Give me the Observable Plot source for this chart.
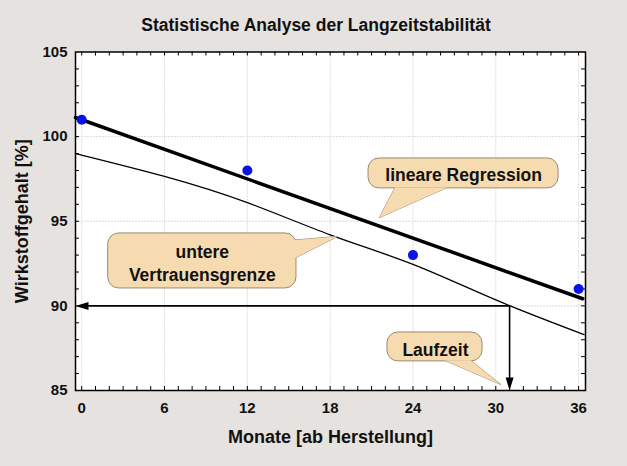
<!DOCTYPE html>
<html><head><meta charset="utf-8">
<script src="https://cdn.jsdelivr.net/npm/d3@7"></script>
<script src="https://cdn.jsdelivr.net/npm/@observablehq/plot@0.6"></script>
<style>
html,body{margin:0;padding:0;background:#e5e2df;}
#chart svg{display:block;}
</style></head><body><div id="chart"></div>
<script>
// ---- data ----
const months = [0, 12, 24, 36];
const content = [101, 98, 93, 91];
const regMonths = [-0.45, 36.3];
const regValues = [101.13, 90.42];
const lowerMonths = [-0.45, 6, 12, 18, 24, 30, 36.4];
const lowerValues = [99.0, 97.65, 96.1, 94.2, 92.45, 90.35, 88.3];
const limitValue = 90;
const shelfLife = 31;
const xTicks = [0, 6, 12, 18, 24, 30, 36];
const yTicks = [85, 90, 95, 100, 105];
const xMinor = d3.range(0, 37, 1);
const yMinor = d3.range(86, 105, 1);
const titleText = "Statistische Analyse der Langzeitstabilität";
const xTitle = "Monate [ab Herstellung]";
const yTitle = "Wirkstoffgehalt [%]";

// callouts (data units)
const calloutText = ["lineare Regression", "untere\nVertrauensgrenze", "Laufzeit"];
const calloutTextX = [27.67, 8.74, 25.63];
const calloutTextY = [97.82, 92.60, 87.5];
const calloutX1 = [20.78, 1.92, 22.15];
const calloutX2 = [34.55, 15.56, 29.04];
const calloutY1 = [96.94, 91.03, 86.72];
const calloutY2 = [98.71, 94.28, 88.43];
const tailX = [[22.7, 21.57, 26.5], [15.12, 18.53, 15.41], [26.29, 30.35, 28.17]];
const tailY = [[97.0, 95.22, 97.0], [93.87, 94.10, 92.81], [86.79, 85.36, 86.79]];

// ---- tables built from arrays ----
const points = months.map((m, i) => ({m, v: content[i]}));
const reg = regMonths.map((m, i) => ({m, v: regValues[i]}));
const lower = lowerMonths.map((m, i) => ({m, v: lowerValues[i]}));
const boxes = calloutText.map((t, i) => ({t, x: calloutTextX[i], y: calloutTextY[i], x1: calloutX1[i], x2: calloutX2[i], y1: calloutY1[i], y2: calloutY2[i]}));
const tails = tailX.flatMap((xs, i) => xs.map((x, j) => ({id: i, x, y: tailY[i][j]})));
const hArrow = [{x1: shelfLife, x2: regMonths[0], y: limitValue}];
const vArrow = [{x: shelfLife, y1: limitValue, y2: yTicks[0]}];

const arrowLeft = {draw(ctx) { ctx.moveTo(0, 0); ctx.lineTo(13, -4); ctx.lineTo(13, 4); ctx.closePath(); }};
const arrowDown = {draw(ctx) { ctx.moveTo(0, 0); ctx.lineTo(-4, -13); ctx.lineTo(4, -13); ctx.closePath(); }};

const bubbleFill = "#f7dbb0";
const bubbleStroke = "#9b8a72";
const font = "'Liberation Sans', Arial, sans-serif";

const chart = Plot.plot({
  width: 627,
  height: 466,
  marginLeft: 75,
  marginRight: 42,
  marginTop: 51.5,
  marginBottom: 76,
  x: {domain: [-0.45, 36.5]},
  y: {domain: [85, 105]},
  style: {background: "#e5e2df", fontFamily: font},
  marks: [
    Plot.frame({fill: "white", stroke: "none"}),
    Plot.ruleX(xTicks, {stroke: "#dcdcdc", strokeWidth: 1, strokeDasharray: "2,1"}),
    Plot.ruleY(yTicks.slice(1, -1), {stroke: "#dcdcdc", strokeWidth: 1, strokeDasharray: "2,1"}),
    // minor ticks inward on all sides
    Plot.tickX(xMinor, {x: d => d, insetTop: 334.5, stroke: "black"}),
    Plot.tickX(xMinor, {x: d => d, insetBottom: 334.5, stroke: "black"}),
    Plot.tickY(yMinor, {y: d => d, insetRight: 506, stroke: "black"}),
    Plot.tickY(yMinor, {y: d => d, insetLeft: 506, stroke: "black"}),
    // lines
    Plot.line(lower, {x: "m", y: "v", stroke: "black", strokeWidth: 1.3, curve: "natural"}),
    Plot.line(reg, {x: "m", y: "v", stroke: "black", strokeWidth: 3.5}),
    Plot.dot(points, {x: "m", y: "v", r: 5, fill: "#0b12e8", stroke: "none"}),
    // shelf-life arrows
    Plot.link(hArrow, {x1: "x1", x2: d => d.x2 + 0.6, y1: "y", y2: "y", stroke: "black", strokeWidth: 1.6}),
    Plot.link(vArrow, {x1: "x", x2: "x", y1: "y1", y2: d => d.y2 + 0.4, stroke: "black", strokeWidth: 1.6}),
    Plot.dot(hArrow, {x: "x2", y: "y", symbol: arrowLeft, fill: "black", stroke: "none"}),
    Plot.dot(vArrow, {x: "x", y: "y2", symbol: arrowDown, fill: "black", stroke: "none"}),
    // callouts
    Plot.line(tails, {x: "x", y: "y", z: "id", fill: bubbleFill, stroke: bubbleStroke, strokeWidth: 1}),
    Plot.rect(boxes, {x1: "x1", x2: "x2", y1: "y1", y2: "y2", rx: 11, fill: bubbleFill, stroke: bubbleStroke, strokeWidth: 1}),
    Plot.line(tails, {x: "x", y: "y", z: "id", fill: bubbleFill, stroke: "none"}),
    Plot.text(boxes, {x: "x", y: "y", text: "t", fontSize: 17.5, fontWeight: "bold", fill: "#111", lineHeight: 1.31}),
    // axes
    Plot.axisX(xTicks, {tickSize: 0, tickPadding: 12, fontSize: 15, fontWeight: "bold", label: null, fill: "#111"}),
    Plot.axisY(yTicks, {tickSize: 0, tickPadding: 8, fontSize: 15, fontWeight: "bold", label: null, fill: "#111"}),
    Plot.frame({stroke: "black", strokeWidth: 1.5}),
    // titles
    Plot.text([titleText], {frameAnchor: "top", lineAnchor: "middle", dy: -27, dx: -14.5, text: d => d, fontSize: 17.5, fontWeight: "bold", fill: "#111"}),
    Plot.text([xTitle], {frameAnchor: "bottom", lineAnchor: "middle", dy: 47, text: d => d, fontSize: 18, fontWeight: "bold", fill: "#111"}),
    Plot.text([yTitle], {frameAnchor: "left", textAnchor: "middle", lineAnchor: "middle", dx: -53, rotate: -90, text: d => d, fontSize: 18, fontWeight: "bold", fill: "#111"})
  ]
});
document.getElementById("chart").appendChild(chart);
</script></body></html>
